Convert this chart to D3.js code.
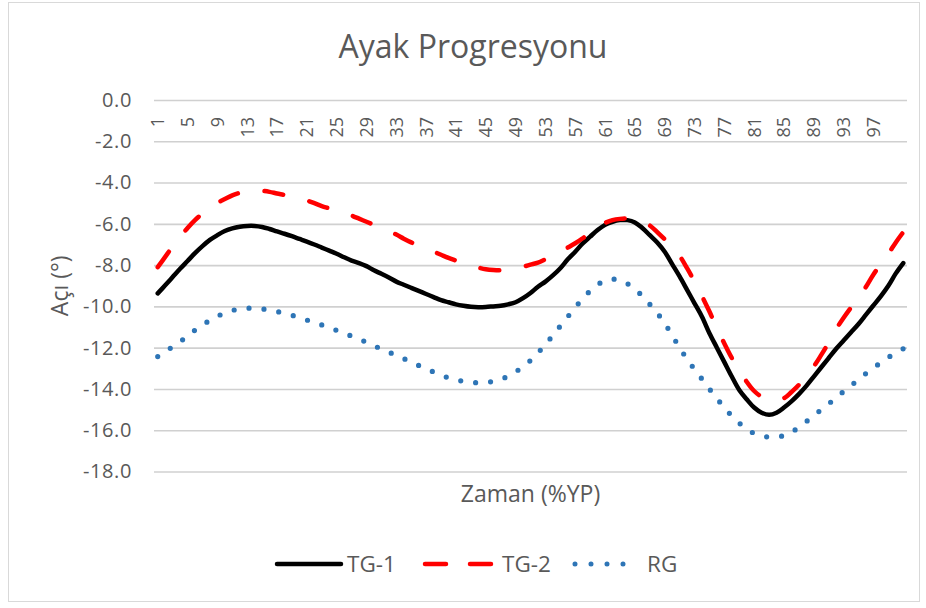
<!DOCTYPE html>
<html>
<head>
<meta charset="utf-8">
<script src="https://cdn.jsdelivr.net/npm/d3@7"></script>
<style>
  body { margin: 0; background: #fff; }
  text { font-family: "Open Sans", sans-serif; fill: #595959; }
</style>
</head>
<body>
<svg id="svg" width="926" height="608"></svg>
<script>
// categories = % of gait cycle (1..101)
const categories = [1,2,3,4,5,6,7,8,9,10,11,12,13,14,15,16,17,18,19,20,
  21,22,23,24,25,26,27,28,29,30,31,32,33,34,35,36,37,38,39,40,
  41,42,43,44,45,46,47,48,49,50,51,52,53,54,55,56,57,58,59,60,
  61,62,63,64,65,66,67,68,69,70,71,72,73,74,75,76,77,78,79,80,
  81,82,83,84,85,86,87,88,89,90,91,92,93,94,95,96,97,98,99,100,101];

const xTickLabels = [1,5,9,13,17,21,25,29,33,37,41,45,49,53,57,61,65,69,73,77,81,85,89,93,97];
const yTickValues = [0,-2,-4,-6,-8,-10,-12,-14,-16,-18];

const tg1 = [-9.37,-8.98,-8.58,-8.18,-7.80,-7.42,-7.08,-6.78,-6.55,-6.35,
  -6.22,-6.14,-6.10,-6.10,-6.15,-6.25,-6.37,-6.48,-6.60,-6.73,
  -6.86,-7.00,-7.15,-7.30,-7.45,-7.62,-7.78,-7.90,-8.05,-8.25,
  -8.42,-8.60,-8.80,-8.95,-9.10,-9.25,-9.40,-9.55,-9.70,-9.80,
  -9.90,-9.97,-10.02,-10.04,-10.03,-10.00,-9.97,-9.90,-9.80,-9.60,
  -9.35,-9.05,-8.80,-8.50,-8.15,-7.72,-7.35,-6.95,-6.62,-6.30,
  -6.05,-5.90,-5.82,-5.82,-5.93,-6.20,-6.55,-6.90,-7.35,-7.95,
  -8.55,-9.20,-9.85,-10.50,-11.30,-12.00,-12.70,-13.40,-14.05,-14.50,
  -14.90,-15.15,-15.25,-15.15,-14.90,-14.60,-14.25,-13.85,-13.40,-12.95,
  -12.50,-12.05,-11.65,-11.25,-10.85,-10.40,-9.95,-9.50,-9.00,-8.40,-7.90];

const tg2 = [-8.10,-7.60,-7.10,-6.65,-6.20,-5.82,-5.50,-5.20,-4.98,-4.80,
  -4.62,-4.50,-4.42,-4.39,-4.40,-4.45,-4.53,-4.60,-4.68,-4.77,
  -4.87,-5.00,-5.14,-5.25,-5.36,-5.47,-5.60,-5.75,-5.90,-6.05,
  -6.20,-6.35,-6.52,-6.72,-6.90,-7.05,-7.20,-7.35,-7.50,-7.65,
  -7.78,-7.90,-8.02,-8.12,-8.20,-8.24,-8.25,-8.22,-8.16,-8.08,
  -7.98,-7.88,-7.72,-7.55,-7.35,-7.15,-6.94,-6.70,-6.42,-6.15,
  -5.95,-5.82,-5.76,-5.74,-5.77,-5.88,-6.08,-6.40,-6.75,-7.10,
  -7.55,-8.15,-8.80,-9.50,-10.25,-11.05,-11.80,-12.50,-13.05,-13.65,
  -14.10,-14.38,-14.52,-14.53,-14.45,-14.15,-13.80,-13.30,-12.90,-12.35,
  -11.75,-11.10,-10.55,-10.05,-9.60,-9.05,-8.45,-7.95,-7.45,-6.90,-6.40];

const rg = [-12.43,-12.20,-11.95,-11.70,-11.45,-11.15,-10.90,-10.68,-10.48,-10.32,
  -10.20,-10.12,-10.09,-10.09,-10.12,-10.18,-10.25,-10.33,-10.43,-10.55,
  -10.66,-10.78,-10.90,-11.03,-11.16,-11.30,-11.44,-11.58,-11.74,-11.90,
  -12.07,-12.22,-12.37,-12.53,-12.70,-12.86,-13.02,-13.18,-13.33,-13.46,
  -13.56,-13.63,-13.68,-13.70,-13.69,-13.63,-13.53,-13.38,-13.17,-12.92,
  -12.62,-12.25,-11.85,-11.40,-10.95,-10.50,-10.05,-9.62,-9.25,-8.95,
  -8.75,-8.68,-8.72,-8.90,-9.15,-9.50,-9.90,-10.32,-10.82,-11.40,
  -12.00,-12.55,-13.05,-13.52,-14.00,-14.45,-14.92,-15.30,-15.65,-15.95,
  -16.15,-16.27,-16.33,-16.32,-16.26,-16.10,-15.85,-15.58,-15.30,-15.00,
  -14.72,-14.42,-14.12,-13.83,-13.55,-13.25,-12.98,-12.72,-12.47,-12.25,-12.05];

const seriesNames = ["TG-1", "TG-2", "RG"];

const svg = d3.select("#svg");

// chart frame
svg.append("rect")
  .attr("x", 8.5).attr("y", 2.5)
  .attr("width", 911).attr("height", 599)
  .attr("fill", "#fff").attr("stroke", "#d9d9d9");

const plotL = 154, plotR = 907, plotT = 100, plotB = 471.5;

const x = d3.scaleBand().domain(categories).range([plotL, plotR]);
const y = d3.scaleLinear().domain([-18, 0]).range([plotB, plotT]);
const cx = c => x(c) + x.bandwidth() / 2;

// gridlines + y labels
const yAxis = svg.append("g")
  .attr("transform", `translate(${plotL},0)`)
  .call(d3.axisLeft(y).tickValues(yTickValues).tickSize(-(plotR - plotL))
    .tickPadding(22).tickFormat(d => d.toFixed(1)));
yAxis.select(".domain").remove();
yAxis.selectAll("line").attr("stroke", "#d0d0d0").attr("stroke-width", 1.6);
yAxis.selectAll("text")
  .style("font-size", "20px")
  .style("letter-spacing", "0.6px")
  .attr("fill", "#595959");

// category axis sits on the 0 line, labels hang below it rotated
const xAxis = svg.append("g")
  .attr("transform", `translate(0,${y(0)})`)
  .call(d3.axisBottom(x).tickValues(xTickLabels).tickSize(0));
xAxis.select(".domain").remove();
xAxis.selectAll("text")
  .attr("transform", "rotate(-90)")
  .attr("x", -17).attr("y", 0).attr("dy", "0.36em")
  .style("text-anchor", "end")
  .style("font-size", "18px")
  .attr("fill", "#595959");

// the three lines
const lineGen = vals => d3.line()
  .x((d, i) => cx(categories[i]))
  .y(d => y(d))
  .curve(d3.curveCatmullRom)(vals);

const styles = [
  { data: tg1, color: "#000000", w: 4.5, dash: null },
  { data: tg2, color: "#ff0000", w: 4.5, dash: "19 27" },
  { data: rg,  color: "#2e75b6", w: 5.2, dash: "0 15" }
];

svg.append("g").selectAll("path")
  .data(styles)
  .join("path")
  .attr("d", s => lineGen(s.data))
  .attr("fill", "none")
  .attr("stroke", s => s.color)
  .attr("stroke-width", s => s.w)
  .attr("stroke-linecap", "round")
  .attr("stroke-linejoin", "round")
  .attr("stroke-dasharray", s => s.dash);

// titles
svg.append("text")
  .attr("x", 473).attr("y", 58)
  .attr("text-anchor", "middle")
  .style("font-size", "32px")
  .text("Ayak Progresyonu");

svg.append("text")
  .attr("transform", `translate(68,${(plotT + plotB) / 2}) rotate(-90)`)
  .attr("text-anchor", "middle")
  .style("font-size", "23px")
  .text("Açı (°)");

svg.append("text")
  .attr("x", (plotL + plotR) / 2).attr("y", 502)
  .attr("text-anchor", "middle")
  .style("font-size", "23px")
  .text("Zaman (%YP)");

// legend
const legendY = 564;
const legendItems = [
  { x0: 277, x1: 341, tx: 347 },
  { x0: 425, x1: 492, tx: 502 },
  { x0: 575, x1: 639, tx: 647 }
];
const legend = svg.append("g");
legendItems.forEach((it, i) => {
  const s = styles[i];
  legend.append("line")
    .attr("x1", it.x0).attr("x2", it.x1)
    .attr("y1", legendY).attr("y2", legendY)
    .attr("stroke", s.color)
    .attr("stroke-width", i === 2 ? 5 : 4.5)
    .attr("stroke-linecap", "round")
    .attr("stroke-dasharray", i === 1 ? "21 24" : (i === 2 ? "0 16" : null));
  legend.append("text")
    .attr("x", it.tx).attr("y", legendY)
    .attr("dy", "0.36em")
    .style("font-size", "22.5px")
    .text(seriesNames[i]);
});
</script>
</body>
</html>
